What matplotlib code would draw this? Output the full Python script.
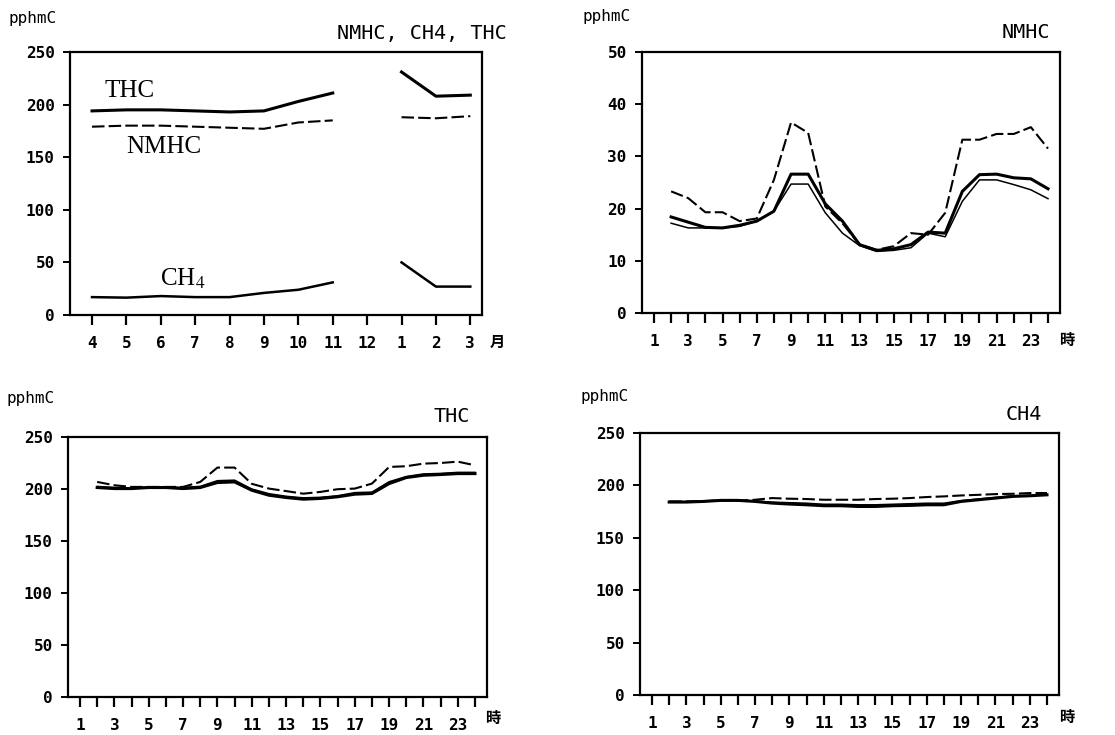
import matplotlib
matplotlib.use("Agg")
import matplotlib.pyplot as plt
import numpy as np

plt.rcParams["font.family"] = ["DejaVu Sans Mono", "Noto Sans CJK JP"]

# 月別 (4月〜翌3月, 12月は欠測)
months = [4, 5, 6, 7, 8, 9, 10, 11, 12, 1, 2, 3]
thc_month = [194, 195, 195, 194, 193, 194, 203, 211, np.nan, 231, 208, 209]
nmhc_month = [179, 180, 180, 179, 178, 177, 183, 185, np.nan, 188, 187, 189]
ch4_month = [17, 16.5, 18, 17, 17, 21, 24, 31, np.nan, 50, 27, 27]

# 時刻別 (2時〜24時)
hours = list(range(2, 25))
nmhc_dash = [23.3, 22.0, 19.3, 19.3, 17.6, 18.1, 25.5, 36.5, 34.5, 20.4, 17.2, 13.1,
             12.1, 12.8, 15.3, 15.0, 19.2, 33.2, 33.2, 34.3, 34.3, 35.6, 31.5]
nmhc_thick = [18.4, 17.4, 16.4, 16.3, 16.8, 17.6, 19.5, 26.6, 26.6, 20.9, 17.6, 13.1,
              12.0, 12.3, 13.1, 15.5, 15.3, 23.3, 26.5, 26.6, 25.9, 25.7, 23.8]
nmhc_thin = [17.2, 16.3, 16.3, 16.3, 16.6, 17.6, 19.5, 24.7, 24.7, 19.2, 15.3, 12.9,
             11.8, 12.0, 12.5, 15.3, 14.6, 21.4, 25.5, 25.5, 24.6, 23.6, 21.9]

thc_dash = [206.8, 203.6, 202, 202, 202, 202, 206.8, 220.6, 220.6, 205, 200.4, 198,
            195.5, 197.2, 199.8, 200.4, 205.2, 221.2, 221.9, 224.4, 225, 226.3, 222.8]
thc_thick = [201.4, 200.4, 200.4, 201.4, 201.4, 200.4, 201.4, 206.2, 206.8, 198.8, 194, 191.8,
             190.2, 190.9, 192.5, 195, 195.7, 205.2, 211, 213.2, 213.9, 214.8, 214.8]
thc_thin = [202.5, 201.5, 201, 202, 202, 201.5, 202.5, 208, 208.5, 200, 195.5, 193,
            191.5, 192, 193.5, 196.5, 197, 207, 212, 214.5, 215, 216, 216]

ch4_dash = [184.7, 184.7, 185, 185.7, 185.5, 186.3, 187.9, 187.3, 187, 186.3, 186.3, 186.3,
            187, 187.3, 187.9, 188.9, 189.5, 190.4, 191, 191.7, 192, 192.7, 192.7]
ch4_thick = [184.1, 184.1, 184.7, 185.7, 185.7, 184.7, 183.1, 182.2, 181.5, 180.6, 180.6, 179.9,
             179.9, 180.6, 180.9, 181.5, 181.5, 184.7, 186.3, 187.9, 189.5, 190.1, 191]
ch4_thin = [184.5, 184.5, 185, 185.5, 185.5, 185, 184, 183.5, 183, 182, 182, 181.5,
            181.5, 182, 182.5, 183, 183, 185.5, 187, 188.5, 190, 190.5, 191.5]

W, H = 1115, 735
fig = plt.figure(figsize=(W / 100, H / 100), dpi=100)
fig.patch.set_facecolor("white")

TICKFONT = dict(fontsize=11.5, fontweight="bold")


def px_axes(x0, y0, x1, y1):
    return fig.add_axes([x0 / W, 1 - y1 / H, (x1 - x0) / W, (y1 - y0) / H])


def ftext(x, y, s, **kw):
    fig.text(x / W, 1 - y / H, s, **kw)


def style_axes(ax, yticks):
    for sp in ax.spines.values():
        sp.set_linewidth(1.6)
        sp.set_color("black")
    ax.set_ylim(yticks[0], yticks[-1])
    ax.set_yticks(yticks)
    ax.set_yticklabels([str(v) for v in yticks], **TICKFONT)
    ax.tick_params(axis="y", direction="out", length=5, width=1.4, pad=6)
    ax.tick_params(axis="x", direction="out", length=7, width=1.6, pad=8)


def hourly_panel(box, dash, thick, thin, yticks, title, title_xy, unit_xy, ji_xy):
    ax = px_axes(*box)
    ax.plot(hours, dash, color="black", lw=1.5, ls=(0, (6, 2)))
    ax.plot(hours, thick, color="black", lw=2.2)
    ax.plot(hours, thin, color="black", lw=1.1)
    x0, y0, x1, y1 = box
    tick1 = x0 + 12
    span = (x1 - x0 - 24) / 23
    ax.set_xlim(1 - (tick1 - x0) / span, 24 + (tick1 - x0) / span)
    style_axes(ax, yticks)
    ax.set_xticks(range(1, 25))
    ax.set_xticklabels([str(h) if h % 2 == 1 else "" for h in range(1, 25)], **TICKFONT)
    ftext(*title_xy, title, fontsize=14.5, ha="right", va="center")
    ftext(*unit_xy, "pphmC", fontsize=11.5, ha="left", va="center")
    ftext(*ji_xy, "時", fontsize=11, fontweight="bold", ha="center", va="center")
    return ax


# 左上: 月別
ax = px_axes(70, 52, 482, 315)
xm = np.arange(len(months))
ax.plot(xm, thc_month, color="black", lw=2.2)
ax.plot(xm, nmhc_month, color="black", lw=1.5, ls=(0, (6, 2)))
ax.plot(xm, ch4_month, color="black", lw=1.8)
ax.set_xlim(-0.64, 11.34)
style_axes(ax, [0, 50, 100, 150, 200, 250])
ax.set_xticks(xm)
ax.set_xticklabels([str(m) for m in months], **TICKFONT)
serif = ["Liberation Serif", "DejaVu Serif"]
ax.text(1.1, 213, "THC", family=serif, fontsize=18, ha="center", va="center")
ax.text(2.08, 160, "NMHC", family=serif, fontsize=18, ha="center", va="center")
ax.text(2.63, 23, r"CH$_4$", family=serif, fontsize=18, ha="center", va="bottom",
        math_fontfamily="stix")
ftext(507, 33, "NMHC, CH4, THC", fontsize=14.5, ha="right", va="center")
ftext(8, 19, "pphmC", fontsize=11.5, ha="left", va="center")
ftext(497, 342, "月", fontsize=11, fontweight="bold", ha="center", va="center")

# 右上: NMHC
hourly_panel((642, 52, 1060, 313), nmhc_dash, nmhc_thick, nmhc_thin,
             [0, 10, 20, 30, 40, 50], "NMHC", (1050, 33), (583, 17), (1067, 340))

# 左下: THC
hourly_panel((68, 437, 487, 697), thc_dash, thc_thick, thc_thin,
             [0, 50, 100, 150, 200, 250], "THC", (470, 417), (6, 399), (493, 718))

# 右下: CH4
hourly_panel((640, 433, 1059, 695), ch4_dash, ch4_thick, ch4_thin,
             [0, 50, 100, 150, 200, 250], "CH4", (1042, 415), (581, 397), (1067, 717))

fig.savefig("out.png", dpi=100, facecolor="white")
